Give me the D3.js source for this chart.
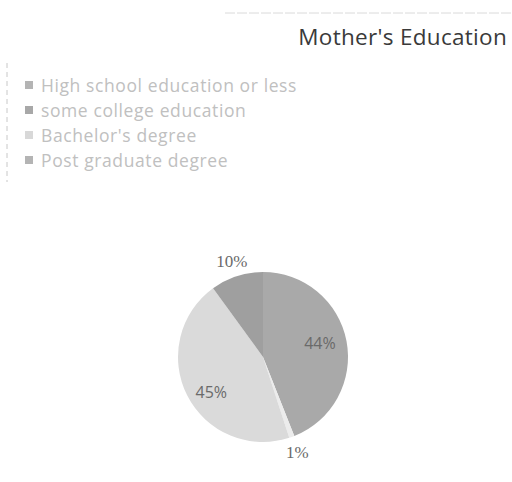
<!DOCTYPE html>
<html>
<head>
<meta charset="utf-8">
<script src="https://cdn.jsdelivr.net/npm/d3@7"></script>
<style>
html,body{margin:0;padding:0;background:#fff;}
svg{display:block;}
</style>
</head>
<body>
<svg id="chart" width="512" height="482"></svg>
<script>
const title = "Mother's Education";
const categories = ["High school education or less", "some college education", "Bachelor's degree", "Post graduate degree"];
const values = [44, 1, 45, 10];
const labels = ["44%", "1%", "45%", "10%"];
const colors = ["#a9a9a9", "#ececec", "#dadada", "#9f9f9f"];
const legendColors = ["#b4b4b4", "#a8a8a8", "#d8d8d8", "#b4b4b4"];
const labelInside = [true, false, true, false];

const svg = d3.select("#chart");

// faint top rule
svg.append("line").attr("x1", 225).attr("x2", 512).attr("y1", 13).attr("y2", 13)
  .attr("stroke", "#dadada").attr("stroke-width", 1).attr("stroke-dasharray", "10,2");

// title
svg.append("text").attr("x", 507).attr("y", 45).attr("text-anchor", "end")
  .attr("font-family", "Open Sans, sans-serif").attr("font-size", 22.5)
  .attr("letter-spacing", 0.3)
  .attr("fill", "#3a3a3a").text(title);

// legend left dashed line
svg.append("line").attr("x1", 7).attr("x2", 7).attr("y1", 63).attr("y2", 182)
  .attr("stroke", "#c8c8c8").attr("stroke-width", 1).attr("stroke-dasharray", "5,4");

const legend = svg.append("g");
const ly = d3.scaleBand().domain(categories).range([73, 173]);
categories.forEach((c, i) => {
  const y = ly(c) + ly.bandwidth() / 2;
  legend.append("rect").attr("x", 25).attr("y", y - 4.5).attr("width", 8).attr("height", 8)
    .attr("fill", legendColors[i]);
  legend.append("text").attr("x", 41).attr("y", y + 6)
    .attr("font-family", "Open Sans, sans-serif").attr("font-size", 17.5)
    .attr("letter-spacing", 0.6)
    .attr("fill", "#c0c0c0").text(c);
});

// pie
const cx = 263, cy = 357, r = 85;
const pie = d3.pie().sort(null).value(d => d);
const arcs = pie(values);
const arc = d3.arc().innerRadius(0).outerRadius(r);
const inArc = d3.arc().innerRadius(58).outerRadius(58);
const outArc = d3.arc().innerRadius(101).outerRadius(101);
const g = svg.append("g").attr("transform", `translate(${cx},${cy})`);
g.selectAll("path").data(arcs).enter().append("path")
  .attr("d", arc).attr("fill", (d, i) => colors[i]);

g.selectAll("text").data(arcs).enter().append("text")
  .attr("transform", (d, i) => {
    const p = labelInside[i] ? inArc.centroid(d) : outArc.centroid(d);
    return `translate(${p[0]},${p[1]})`;
  })
  .attr("text-anchor", "middle").attr("dy", (d, i) => i === 2 ? "0.9em" : (i === 0 ? "0.15em" : "0.35em"))
  .attr("font-family", (d, i) => labelInside[i] ? "Open Sans, sans-serif" : "Liberation Serif, serif")
  .attr("font-size", (d, i) => labelInside[i] ? 16 : 17)
  .attr("fill", "#6a6a6a")
  .text((d, i) => labels[i]);
</script>
</body>
</html>
